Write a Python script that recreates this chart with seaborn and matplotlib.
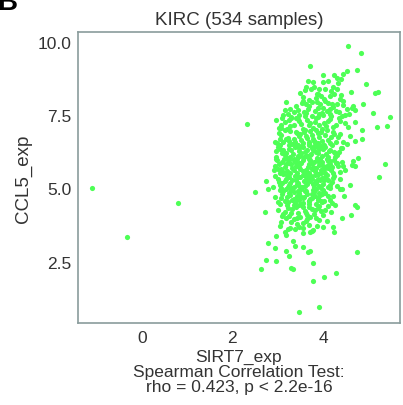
import numpy as np
import pandas as pd
import matplotlib
matplotlib.use("Agg")
import matplotlib.pyplot as plt
import seaborn as sns

# Valores (SIRT7_exp no eixo x, CCL5_exp no eixo y)

# pontos isolados / borda da nuvem
sirt7_borda = [-1.09, -0.33, 0.79, 2.32, 4.55, 4.84, 3.46, 3.91, 3.78, 4.02,
               4.28, 2.63, 3.34, 4.74, 2.49, 5.36, 5.24, 4.94, 5.14, 5.22,
               5.47, 5.41, 5.19, 5.11, 4.75, 4.89, 4.85, 4.85, 4.78, 4.70,
               4.61, 4.43, 4.59, 4.47, 4.41, 4.70, 4.61, 4.66, 4.53, 4.70,
               4.63, 4.48, 4.52, 3.71, 3.67, 3.77, 3.63, 3.73, 3.49, 3.19,
               3.53, 3.63, 3.89, 3.16, 3.27, 2.97, 3.30, 3.08, 4.44, 4.00,
               4.24, 4.30, 4.39, 4.33, 4.00, 4.11, 4.21, 4.30, 3.91, 4.04,
               3.86, 4.15, 4.37, 4.44, 3.86, 3.93, 4.19, 4.44, 4.52, 4.63,
               4.70, 4.28, 4.00, 4.08, 4.15, 4.37, 2.94, 2.97, 2.97, 2.94,
               2.75, 2.79, 4.70, 4.41, 4.26, 4.66, 4.44, 4.30, 4.15, 4.37,
               4.37, 4.15, 4.22, 3.93, 2.72, 2.79, 2.94, 2.75, 2.96, 3.19,
               3.25, 3.34, 3.38, 3.56, 3.67, 3.78, 3.30, 2.97, 3.19, 3.56,
               3.71, 3.27, 3.38, 3.05, 3.19, 3.56, 4.26, 4.74, 3.97, 4.08,
               3.87, 4.21, 4.24, 3.75, 3.71, 3.08]
ccl5_borda = [5.02, 3.36, 4.49, 7.19, 9.85, 9.62, 0.80, 0.95, 1.83, 1.98,
              2.13, 2.26, 2.25, 2.82, 4.87, 5.82, 5.40, 8.56, 8.25, 8.30,
              7.45, 7.13, 7.09, 7.57, 9.03, 7.88, 6.68, 6.99, 6.05, 4.45,
              4.11, 4.00, 5.13, 4.74, 4.99, 7.27, 8.30, 7.80, 9.00, 5.76,
              5.79, 5.63, 6.51, 9.17, 8.67, 8.64, 8.45, 8.41, 8.25, 7.96,
              7.91, 7.88, 8.22, 7.68, 7.71, 7.33, 7.39, 7.16, 8.90, 8.87,
              8.87, 8.76, 8.72, 8.60, 8.64, 8.67, 8.47, 8.39, 8.39, 8.41,
              8.22, 8.16, 8.05, 7.99, 7.96, 7.88, 7.88, 7.84, 7.71, 7.76,
              7.68, 7.65, 7.76, 7.65, 7.53, 7.30, 6.59, 6.28, 6.02, 5.76,
              5.25, 4.97, 6.62, 6.39, 6.22, 5.94, 5.76, 5.88, 5.94, 5.33,
              4.97, 5.02, 4.76, 4.79, 4.19, 3.14, 2.97, 2.57, 2.54, 2.88,
              2.68, 3.20, 3.05, 3.00, 2.82, 2.46, 2.28, 3.37, 3.42, 3.48,
              3.50, 3.65, 3.62, 3.71, 4.00, 3.82, 4.45, 4.37, 4.53, 3.88,
              3.73, 3.69, 3.50, 3.54, 2.85, 7.08]

# núcleo da nuvem, por faixa de CCL5
sirt7_80 = [3.55, 3.80, 4.02, 4.18, 3.68, 3.95, 4.25, 3.60, 4.40, 3.85]
ccl5_80 = [8.12, 8.48, 8.05, 8.32, 8.02, 8.15, 8.22, 8.35, 8.18, 8.08]

sirt7_75 = [3.22, 3.40, 3.58, 3.75, 3.98, 4.12, 4.35, 3.48, 3.66, 3.82,
            4.05, 4.22, 3.35, 3.92, 4.48, 3.70, 3.55, 4.30, 3.12, 3.88,
            4.00, 3.44, 3.62, 4.15, 4.58]
ccl5_75 = [7.55, 7.82, 7.62, 7.95, 7.58, 7.92, 7.62, 7.52, 7.70, 7.66,
           7.98, 7.78, 7.60, 7.55, 7.52, 7.80, 7.97, 7.90, 7.52, 7.74,
           7.50, 7.68, 7.58, 7.70, 7.55]

sirt7_70 = [3.02, 3.15, 3.28, 3.40, 3.52, 3.65, 3.78, 3.90, 4.02, 4.15,
            4.28, 4.42, 4.55, 3.20, 3.35, 3.48, 3.60, 3.72, 3.85, 3.97,
            4.10, 4.22, 4.35, 3.10, 3.30, 3.56, 3.68, 3.82, 4.06, 4.48,
            3.45, 3.92, 4.18, 3.25, 3.75]
ccl5_70 = [7.05, 7.28, 7.12, 7.42, 7.20, 7.35, 7.08, 7.45, 7.22, 7.38,
           7.15, 7.48, 7.10, 7.02, 7.18, 7.32, 7.48, 7.25, 7.40, 7.02,
           7.30, 7.10, 7.42, 7.42, 7.45, 7.04, 7.15, 7.28, 7.12, 7.25,
           7.38, 7.18, 7.48, 7.35, 7.46]

sirt7_65 = [2.98, 3.08, 3.18, 3.28, 3.38, 3.48, 3.58, 3.68, 3.78, 3.88,
            3.98, 4.08, 4.18, 4.28, 4.38, 3.02, 3.12, 3.22, 3.32, 3.42,
            3.52, 3.62, 3.72, 3.82, 3.92, 4.02, 4.12, 4.22, 4.32, 4.45,
            3.15, 3.35, 3.55, 3.75, 3.95, 4.15, 3.25, 3.45, 3.65, 3.85,
            4.05, 3.05, 3.60, 3.70, 3.40, 3.90, 4.25, 3.50, 3.80, 4.60]
ccl5_65 = [6.55, 6.82, 6.68, 6.95, 6.60, 6.78, 6.92, 6.52, 6.70, 6.88,
           6.62, 6.98, 6.75, 6.58, 6.85, 6.90, 6.58, 6.72, 6.52, 6.88,
           6.65, 6.80, 6.96, 6.58, 6.76, 6.50, 6.66, 6.92, 6.74, 6.60,
           6.98, 6.70, 6.55, 6.84, 6.92, 6.56, 6.62, 6.50, 6.72, 6.98,
           6.82, 6.68, 6.98, 6.60, 6.94, 6.54, 6.86, 6.85, 6.62, 6.80]

sirt7_60 = [2.96, 3.06, 3.16, 3.26, 3.36, 3.46, 3.56, 3.66, 3.76, 3.86,
            3.96, 4.06, 4.16, 4.26, 4.36, 3.00, 3.10, 3.20, 3.30, 3.40,
            3.50, 3.60, 3.70, 3.80, 3.90, 4.00, 4.10, 4.20, 4.30, 4.40,
            3.04, 3.14, 3.24, 3.34, 3.44, 3.54, 3.64, 3.74, 3.84, 3.94,
            4.04, 4.14, 3.18, 3.38, 3.58, 3.78, 3.98, 3.28, 3.48, 3.68,
            3.88, 4.08, 3.12, 3.52, 3.72, 3.92, 4.24, 3.42, 3.62, 3.82]
ccl5_60 = [6.08, 6.35, 6.15, 6.48, 6.02, 6.28, 6.42, 6.10, 6.38, 6.05,
           6.45, 6.18, 6.32, 6.06, 6.25, 6.40, 6.22, 6.04, 6.30, 6.44,
           6.12, 6.26, 6.02, 6.46, 6.20, 6.34, 6.08, 6.48, 6.14, 6.38,
           6.48, 6.02, 6.36, 6.18, 6.10, 6.46, 6.30, 6.16, 6.24, 6.00,
           6.42, 6.28, 6.20, 6.40, 6.06, 6.32, 6.12, 6.08, 6.38, 6.48,
           6.44, 6.02, 6.30, 6.22, 6.14, 6.34, 6.26, 6.00, 6.12, 6.40]

sirt7_55 = [2.92, 3.02, 3.12, 3.22, 3.32, 3.42, 3.52, 3.62, 3.72, 3.82,
            3.92, 4.02, 4.12, 4.22, 4.32, 2.98, 3.08, 3.18, 3.28, 3.38,
            3.48, 3.58, 3.68, 3.78, 3.88, 3.98, 4.08, 4.18, 4.28, 4.38,
            3.05, 3.15, 3.25, 3.35, 3.45, 3.55, 3.65, 3.75, 3.85, 3.95,
            4.05, 4.15, 4.25, 3.10, 3.30, 3.50, 3.70, 3.90, 4.10, 3.20,
            3.40, 3.60, 3.80, 4.00, 3.36, 3.56, 3.76, 3.46, 3.66, 3.86,
            3.26, 3.96, 4.20, 3.00, 4.42]
ccl5_55 = [5.62, 5.85, 5.55, 5.92, 5.70, 5.52, 5.88, 5.64, 5.96, 5.58,
           5.80, 5.66, 5.94, 5.52, 5.76, 5.98, 5.68, 5.82, 5.54, 5.90,
           5.72, 5.60, 5.84, 5.74, 5.50, 5.92, 5.78, 5.62, 5.86, 5.56,
           5.52, 5.74, 5.96, 5.62, 5.80, 5.98, 5.56, 5.88, 5.70, 5.64,
           5.54, 5.84, 5.98, 5.90, 5.82, 5.66, 5.52, 5.94, 5.70, 5.60,
           5.76, 5.50, 5.90, 5.78, 5.96, 5.58, 5.68, 5.86, 5.72, 5.96,
           5.88, 5.52, 5.72, 5.66, 5.90]

sirt7_50 = [2.90, 3.00, 3.10, 3.20, 3.30, 3.40, 3.50, 3.60, 3.70, 3.80,
            3.90, 4.00, 4.10, 4.20, 4.30, 2.95, 3.05, 3.15, 3.25, 3.35,
            3.45, 3.55, 3.65, 3.75, 3.85, 3.95, 4.05, 4.15, 4.25, 3.02,
            3.12, 3.22, 3.32, 3.42, 3.52, 3.62, 3.72, 3.82, 3.92, 4.02,
            4.12, 3.18, 3.38, 3.58, 3.78, 3.98, 3.28, 3.48, 3.68, 3.88,
            3.08, 3.44, 3.64, 3.84, 4.08, 3.24, 3.54, 3.74, 3.94, 4.22]
ccl5_50 = [5.05, 5.32, 5.18, 5.45, 5.02, 5.28, 5.40, 5.10, 5.36, 5.06,
           5.48, 5.14, 5.30, 5.22, 5.08, 5.42, 5.12, 5.26, 5.38, 5.04,
           5.20, 5.46, 5.16, 5.34, 5.24, 5.00, 5.40, 5.12, 5.44, 5.22,
           5.48, 5.06, 5.30, 5.16, 5.02, 5.38, 5.26, 5.46, 5.10, 5.28,
           5.04, 5.34, 5.44, 5.24, 5.14, 5.36, 5.20, 5.08, 5.48, 5.32,
           5.02, 5.40, 5.30, 5.18, 5.46, 5.12, 5.06, 5.42, 5.28, 5.36]

sirt7_45 = [2.95, 3.05, 3.15, 3.25, 3.35, 3.45, 3.55, 3.65, 3.75, 3.85,
            3.95, 4.05, 4.15, 3.00, 3.10, 3.20, 3.30, 3.40, 3.50, 3.60,
            3.70, 3.80, 3.90, 4.00, 4.10, 4.20, 3.08, 3.18, 3.28, 3.38,
            3.48, 3.58, 3.68, 3.78, 3.88, 3.98, 3.12, 3.32, 3.52, 3.72,
            3.92, 3.22, 3.42, 3.62, 3.82, 4.02, 3.36, 3.56, 3.76, 3.46]
ccl5_45 = [4.72, 4.95, 4.58, 4.86, 4.64, 4.92, 4.52, 4.80, 4.68, 4.98,
           4.56, 4.84, 4.62, 4.54, 4.82, 4.70, 4.96, 4.60, 4.76, 4.90,
           4.58, 4.88, 4.66, 4.94, 4.74, 4.52, 4.66, 4.98, 4.78, 4.52,
           4.86, 4.72, 4.56, 4.96, 4.62, 4.80, 4.92, 4.60, 4.98, 4.64,
           4.84, 4.54, 4.76, 4.90, 4.74, 4.58, 4.88, 4.68, 4.82, 4.62]

sirt7_40 = [3.00, 3.10, 3.20, 3.30, 3.40, 3.50, 3.60, 3.70, 3.80, 3.90,
            4.00, 4.12, 3.05, 3.15, 3.25, 3.35, 3.45, 3.55, 3.65, 3.75,
            3.85, 3.95, 4.05, 3.12, 3.32, 3.52, 3.72, 3.92, 3.22, 3.42,
            3.62, 3.82, 4.18, 3.48, 3.68]
ccl5_40 = [4.28, 4.05, 4.42, 4.15, 4.36, 4.02, 4.24, 4.46, 4.12, 4.32,
           4.08, 4.40, 4.48, 4.20, 4.06, 4.44, 4.18, 4.38, 4.10, 4.30,
           4.48, 4.22, 4.26, 4.12, 4.30, 4.46, 4.04, 4.40, 4.34, 4.00,
           4.18, 4.26, 4.20, 4.44, 4.36]

sirt7_35 = [3.08, 3.22, 3.35, 3.48, 3.62, 3.78, 3.92, 3.15, 3.42, 3.70,
            3.85, 3.30, 3.55, 4.00, 3.65]
ccl5_35 = [3.85, 3.62, 3.95, 3.70, 3.88, 3.58, 3.92, 3.52, 3.80, 3.74,
           3.98, 3.86, 3.64, 3.70, 3.96]

titulo = "KIRC (534 samples)"
rotulo_x = "SIRT7_exp\nSpearman Correlation Test:\nrho = 0.423, p < 2.2e-16"
rotulo_y = "CCL5_exp"

# Monta a tabela
xs = (sirt7_borda + sirt7_80 + sirt7_75 + sirt7_70 + sirt7_65 + sirt7_60
      + sirt7_55 + sirt7_50 + sirt7_45 + sirt7_40 + sirt7_35)
ys = (ccl5_borda + ccl5_80 + ccl5_75 + ccl5_70 + ccl5_65 + ccl5_60
      + ccl5_55 + ccl5_50 + ccl5_45 + ccl5_40 + ccl5_35)
df = pd.DataFrame({"SIRT7_exp": xs, "CCL5_exp": ys})

sns.set_style("white")
plt.rcParams["font.family"] = ["Liberation Sans", "DejaVu Sans"]

fig = plt.figure(figsize=(4.03, 4.06), dpi=100)
ax = fig.add_axes([78 / 403, 1 - 324 / 406, 322 / 403, 291 / 406])

sns.scatterplot(data=df, x="SIRT7_exp", y="CCL5_exp", ax=ax,
                color="#4DFF55", s=14, linewidth=0, alpha=1)

ax.set_xlim(-1.41, 5.70)
ax.set_ylim(0.41, 10.34)
ax.set_xticks([0, 2, 4])
ax.set_yticks([2.5, 5.0, 7.5, 10.0])
ax.set_yticklabels(["2.5", "5.0", "7.5", "10.0"])

cor_borda = "#8A9C9C"
for sp in ax.spines.values():
    sp.set_visible(True)
    sp.set_color(cor_borda)
    sp.set_linewidth(1.2)
ax.tick_params(axis="both", direction="out", length=3, width=1,
               color=cor_borda, labelcolor="#333333", labelsize=12.5, pad=2)

ax.set_title(titulo, fontsize=13.5, color="#333333", pad=6)
ax.set_xlabel(rotulo_x, fontsize=12.5, color="#333333", labelpad=3,
              linespacing=0.98)
ax.set_ylabel(rotulo_y, fontsize=13.5, color="#333333", labelpad=4)

# letra do painel (cortada no topo)
fig.text(-0.008, 1 - 10 / 406, "B", fontsize=20, fontweight="bold",
         color="black", va="baseline", ha="left")

fig.savefig("out.png", dpi=100)
